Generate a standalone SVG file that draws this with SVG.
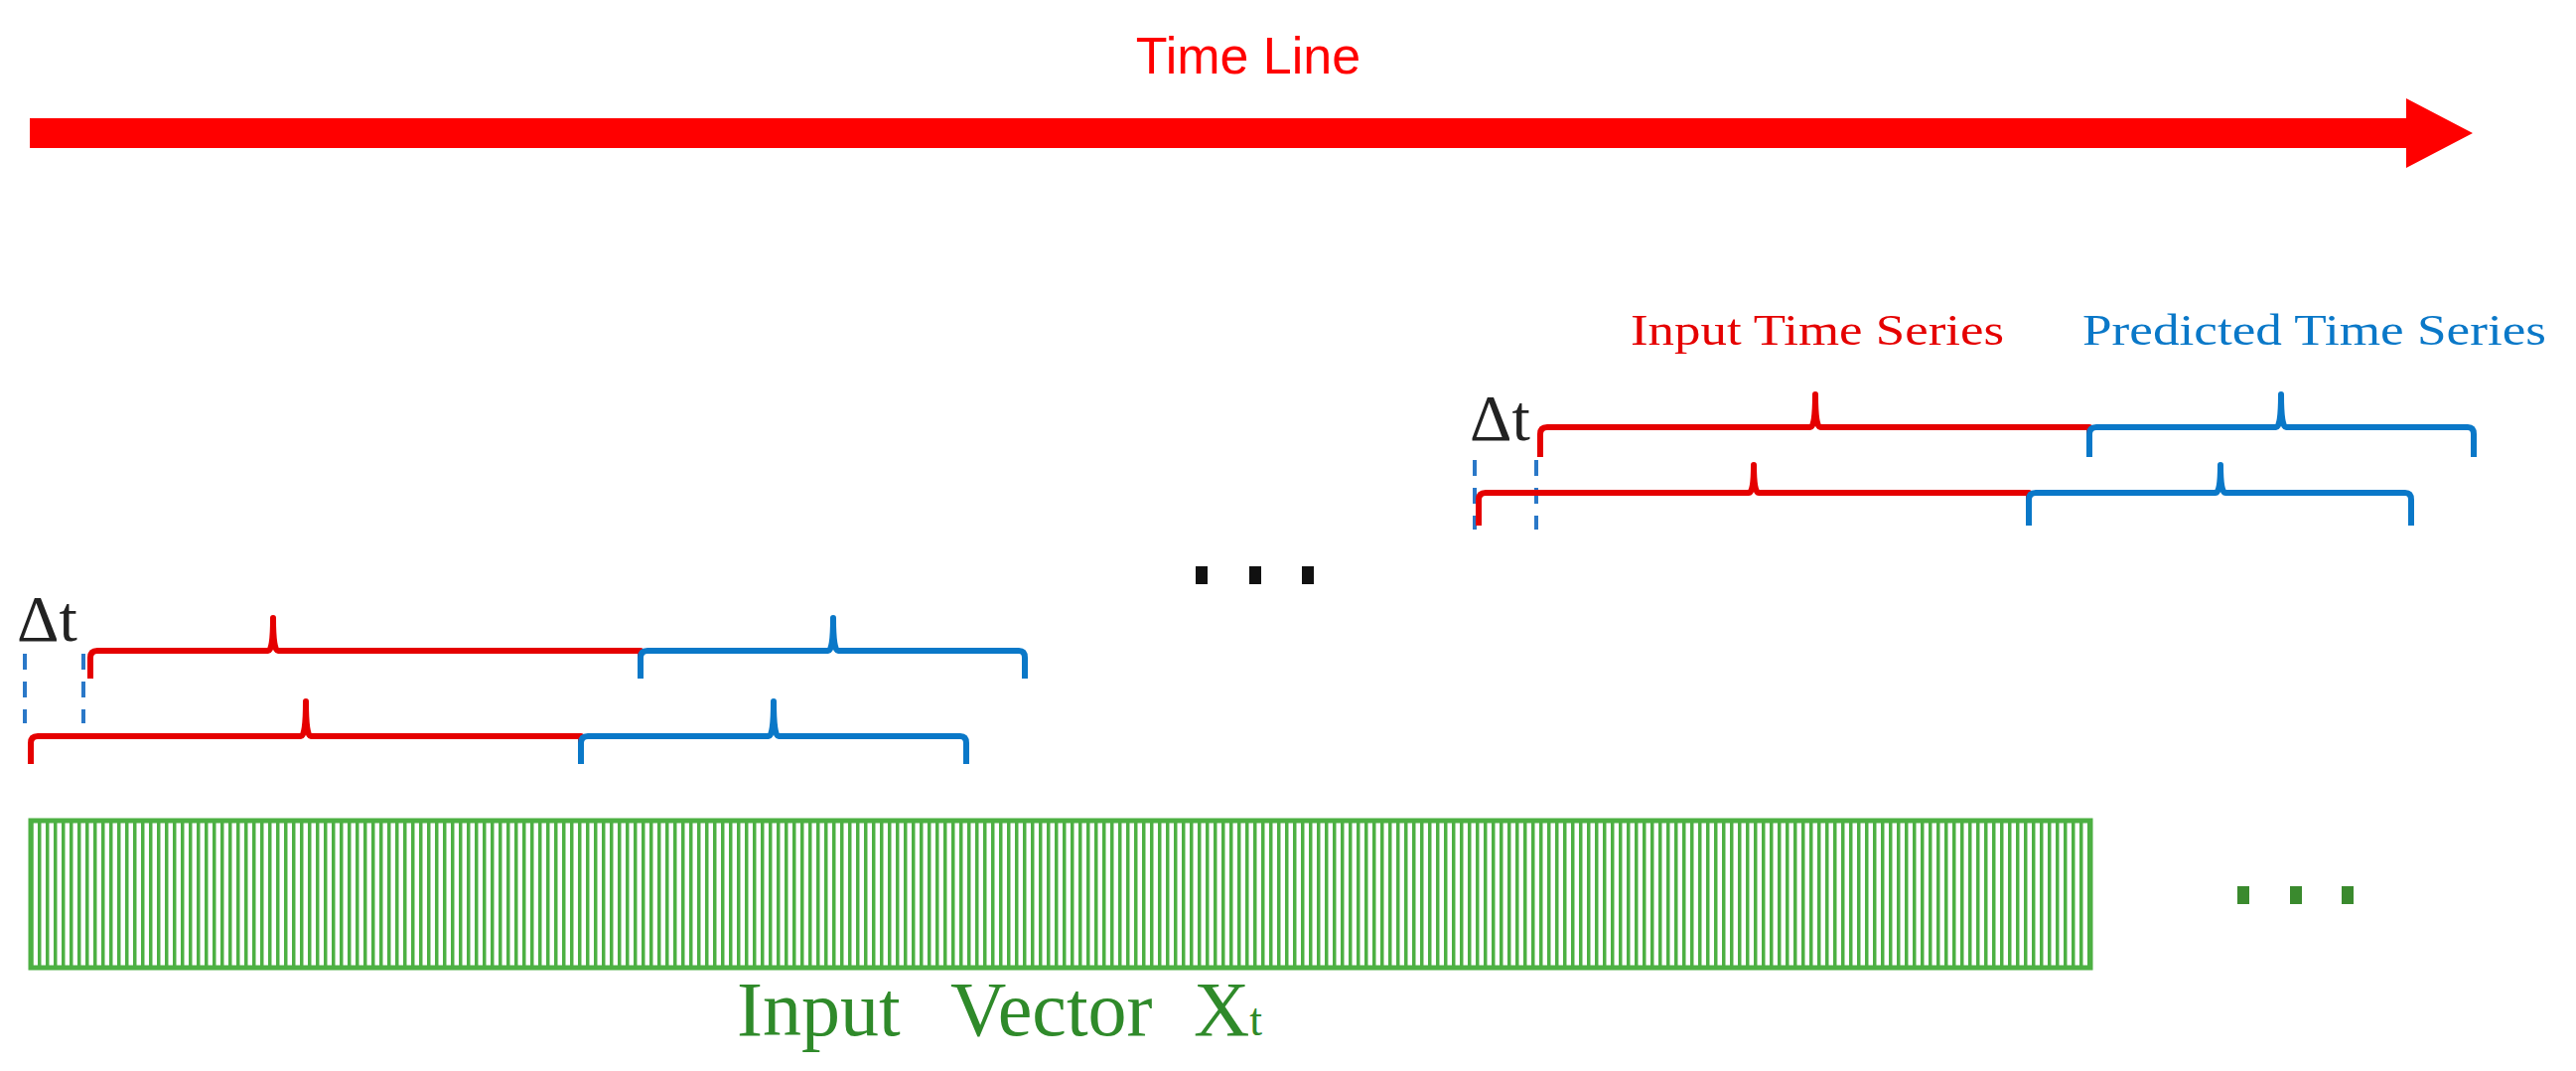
<svg xmlns="http://www.w3.org/2000/svg" width="2594" height="1078" viewBox="0 0 2594 1078">
<style>
.br{fill:none;stroke-width:6;stroke-linejoin:round}
.r{stroke:#e50000}.b{stroke:#0a78c8}
.dash{stroke:#2a78c8;stroke-width:4;stroke-dasharray:16,12}
.ser{font-family:"Liberation Serif",serif}
</style>
<defs>
<pattern id="stripes" x="30" y="0" width="8" height="10" patternUnits="userSpaceOnUse">
<rect x="0" y="0" width="3.5" height="10" fill="#4db043"/>
</pattern>
</defs>
<rect width="2594" height="1078" fill="#fff"/>
<g id="timeline">
<text x="1257" y="74" font-family="Liberation Sans,sans-serif" font-size="52" fill="#ff0000" text-anchor="middle">Time Line</text>
<polygon points="30,119 2423,119 2423,99 2490,134 2423,169 2423,149 30,149" fill="#ff0000"/>
</g>
<g id="labels">
<text class="ser" x="1642" y="347" font-size="44" fill="#e50000" textLength="376" lengthAdjust="spacingAndGlyphs">Input Time Series</text>
<text class="ser" x="2097" y="347" font-size="44" fill="#0a78c8" textLength="467" lengthAdjust="spacingAndGlyphs">Predicted Time Series</text>
<text class="ser" x="1480" y="443" font-size="66" fill="#222">Δt</text>
<text class="ser" x="17" y="645" font-size="66" fill="#222">Δt</text>
</g>
<g id="connectors">
<line class="dash" x1="25" y1="658" x2="25" y2="728"/>
<line class="dash" x1="84" y1="658" x2="84" y2="728"/>
<line class="dash" x1="1485" y1="463" x2="1485" y2="533"/>
<line class="dash" x1="1547" y1="463" x2="1547" y2="533"/>
</g>
<g id="brackets-lower">
<path class="br r" d="M91,683 V662 Q91,655 98,655 H270 Q275,655 275,622 Q275,655 280,655 H645 V683"/>
<path class="br b" d="M645,683 V662 Q645,655 652,655 H834 Q839,655 839,622 Q839,655 844,655 H1026 Q1032,655 1032,662 V683"/>
<path class="br r" d="M31,769 V748 Q31,741 38,741 H303 Q308,741 308,706 Q308,741 313,741 H585 V769"/>
<path class="br b" d="M585,769 V748 Q585,741 592,741 H774 Q779,741 779,706 Q779,741 784,741 H967 Q973,741 973,748 V769"/>
</g>
<g id="brackets-upper">
<path class="br r" d="M1551,460 V437 Q1551,430 1558,430 H1823 Q1828,430 1828,397 Q1828,430 1833,430 H2104 V460"/>
<path class="br b" d="M2104,460 V437 Q2104,430 2111,430 H2292 Q2297,430 2297,397 Q2297,430 2302,430 H2485 Q2491,430 2491,437 V460"/>
<path class="br r" d="M1489,529 V503 Q1489,496 1496,496 H1761 Q1766,496 1766,468 Q1766,496 1771,496 H2043 V529"/>
<path class="br b" d="M2043,529 V503 Q2043,496 2050,496 H2231 Q2236,496 2236,468 Q2236,496 2241,496 H2422 Q2428,496 2428,503 V529"/>
</g>
<g id="dots-black" fill="#111">
<rect x="1204" y="570" width="12" height="18"/>
<rect x="1258" y="570" width="12" height="18"/>
<rect x="1311" y="570" width="12" height="18"/>
</g>
<g id="dots-green" fill="#3a8a2e">
<rect x="2253" y="892" width="12" height="18"/>
<rect x="2306" y="892" width="12" height="18"/>
<rect x="2358" y="892" width="12" height="18"/>
</g>
<g id="vector">
<rect x="31" y="826" width="2074" height="148" fill="url(#stripes)" stroke="#4db043" stroke-width="5"/>
<text class="ser" y="1042" font-size="78" fill="#2f8a2a"><tspan x="742">Input</tspan><tspan x="957">Vector</tspan><tspan x="1202">X</tspan><tspan font-size="46">t</tspan></text>
</g>
</svg>
